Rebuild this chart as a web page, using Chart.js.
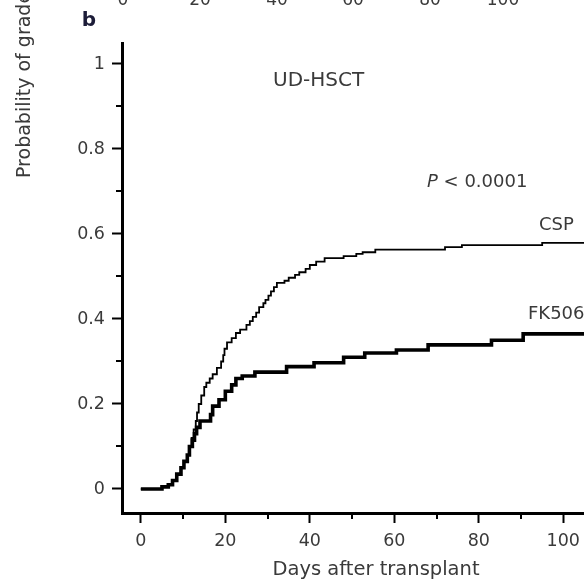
<!DOCTYPE html>
<html>
<head>
<meta charset="utf-8">
<script src="https://cdn.jsdelivr.net/npm/chart.js@4/dist/chart.umd.min.js"></script>
<style>
  html, body { margin: 0; padding: 0; background: #fff; }
  #wrap { width: 588px; height: 583px; position: relative; }
</style>
</head>
<body>
<div id="wrap"><canvas id="km"></canvas></div>
<script>
// cumulative incidence (days, probability)
var cspDays = [0, 5, 6.5, 7.5, 8.5, 9.5, 10.2, 11, 11.5, 12, 12.5, 13, 13.3, 13.7, 14.3, 15, 15.5, 16.3, 17, 18, 19, 19.5, 19.8, 20.4, 21.5, 22.5, 23.5, 25, 25.8, 26.5, 27.3, 28, 29, 29.5, 30.2, 30.8, 31.5, 32.2, 34, 35, 36.5, 37.5, 39, 40, 41.5, 43.5, 48, 51, 52.5, 55.5, 72, 76, 95, 105];
var cspProb = [0, 0.005, 0.01, 0.02, 0.035, 0.05, 0.065, 0.08, 0.1, 0.12, 0.14, 0.16, 0.18, 0.2, 0.22, 0.24, 0.25, 0.26, 0.27, 0.285, 0.3, 0.315, 0.33, 0.345, 0.355, 0.367, 0.375, 0.386, 0.395, 0.405, 0.415, 0.428, 0.437, 0.445, 0.455, 0.465, 0.475, 0.485, 0.49, 0.497, 0.504, 0.51, 0.518, 0.527, 0.535, 0.543, 0.548, 0.553, 0.557, 0.563, 0.569, 0.574, 0.579, 0.579];

var fkDays = [0, 5, 6.5, 7.5, 8.5, 9.5, 10.2, 11, 11.5, 12.2, 12.7, 13.2, 14, 16.5, 17, 18.5, 20, 21.5, 22.5, 24, 27, 34.5, 41, 48, 53, 60.5, 68, 83, 90.5, 105];
var fkProb = [0, 0.005, 0.01, 0.02, 0.035, 0.05, 0.065, 0.08, 0.1, 0.115, 0.13, 0.145, 0.16, 0.175, 0.195, 0.21, 0.23, 0.245, 0.26, 0.266, 0.275, 0.288, 0.297, 0.31, 0.32, 0.327, 0.339, 0.35, 0.365, 0.365];

var xTickValues = [0, 10, 20, 30, 40, 50, 60, 70, 80, 90, 100];
var yTickValues = [0, 0.1, 0.2, 0.3, 0.4, 0.5, 0.6, 0.7, 0.8, 0.9, 1];
var yTickLabels = {0: '0', 2: '0.2', 4: '0.4', 6: '0.6', 8: '0.8', 10: '1'};
// tick labels of the panel above, cut off at the top edge
var topPanelLabels = ['0', '20', '40', '60', '80', '100'];

var FONT = '"DejaVu Sans", Verdana, sans-serif';
var INK = '#3a3a3a';

function pts(xs, ys) {
  return xs.map(function (d, i) { return { x: d, y: ys[i] }; });
}

function isMajorX(v) { return Math.round(v) % 20 === 0; }
function isMajorY(v) { return Math.round(v * 10) % 2 === 0; }

var extras = {
  id: 'extras',
  afterDraw: function (chart) {
    var ctx = chart.ctx;
    var xs = chart.scales.x, ys = chart.scales.y;
    ctx.save();
    // short minor ticks
    ctx.strokeStyle = '#000';
    ctx.lineWidth = 2;
    xTickValues.forEach(function (v) {
      if (isMajorX(v)) return;
      var px = Math.round(xs.getPixelForValue(v));
      ctx.beginPath();
      ctx.moveTo(px, xs.top);
      ctx.lineTo(px, xs.top + 6);
      ctx.stroke();
    });
    yTickValues.forEach(function (v) {
      if (isMajorY(v)) return;
      var py = Math.round(ys.getPixelForValue(v));
      ctx.beginPath();
      ctx.moveTo(ys.right, py);
      ctx.lineTo(ys.right - 6, py);
      ctx.stroke();
    });

    ctx.textBaseline = 'middle';

    // panel letter
    ctx.font = 'bold 20px ' + FONT;
    ctx.fillStyle = '#1c1c38';
    ctx.textAlign = 'center';
    ctx.fillText('b', 89, 21);

    // labels of upper panel (cropped)
    ctx.fillStyle = INK;
    ctx.font = '17px ' + FONT;
    ctx.textBaseline = 'alphabetic';
    var topX = [123, 200, 277, 353, 430, 503];
    topPanelLabels.forEach(function (t, i) { ctx.fillText(t, topX[i], 5); });

    // y axis title (cropped at top)
    ctx.save();
    ctx.font = '19px ' + FONT;
    ctx.translate(25, 178);
    ctx.rotate(-Math.PI / 2);
    ctx.textAlign = 'left';
    ctx.textBaseline = 'middle';
    ctx.fillText('Probability of grade II\u2013IV acute GVHD', 0, 0);
    ctx.restore();

    ctx.textBaseline = 'middle';
    ctx.textAlign = 'left';
    ctx.font = '20px ' + FONT;
    ctx.fillText('UD-HSCT', 273, 81);

    ctx.font = 'italic 18px ' + FONT;
    ctx.fillText('P', 427, 182);
    var pw = ctx.measureText('P').width;
    ctx.font = '18px ' + FONT;
    ctx.fillText(' < 0.0001', 427 + pw, 182);

    ctx.fillText('CSP', 539, 225);
    ctx.fillText('FK506', 528, 314);

    ctx.textAlign = 'center';
    ctx.font = '19.5px ' + FONT;
    ctx.fillText('Days after transplant', 376, 570);
    ctx.restore();
  }
};

var config = {
  type: 'line',
  data: {
    datasets: [
      {
        label: 'CSP',
        data: pts(cspDays, cspProb),
        borderColor: '#000',
        borderWidth: 1.8,
        stepped: true,
        pointRadius: 0,
        fill: false
      },
      {
        label: 'FK506',
        data: pts(fkDays, fkProb),
        borderColor: '#000',
        borderWidth: 3.6,
        stepped: true,
        pointRadius: 0,
        fill: false
      }
    ]
  },
  options: {
    responsive: true,
    maintainAspectRatio: false,
    animation: false,
    layout: { padding: { top: 43, left: 0, right: 0, bottom: 0 } },
    plugins: { legend: { display: false }, tooltip: { enabled: false } },
    scales: {
      x: {
        type: 'linear',
        min: -4.46,
        max: 104.9,
        afterBuildTicks: function (scale) {
          scale.ticks = xTickValues.map(function (v) { return { value: v }; });
        },
        afterFit: function (scale) { scale.height = 70; },
        border: { display: true, color: '#000', width: 3 },
        grid: {
          drawOnChartArea: false,
          drawTicks: true,
          tickLength: 10,
          tickWidth: 2,
          tickColor: function (c) { return isMajorX(c.tick.value) ? '#000' : 'rgba(0,0,0,0)'; }
        },
        ticks: {
          padding: 8,
          maxRotation: 0,
          autoSkip: false,
          color: INK,
          font: { family: FONT, size: 17.5 },
          callback: function (v) { return isMajorX(v) ? String(v) : ''; }
        }
      },
      y: {
        type: 'linear',
        min: -0.0565,
        max: 1.0494,
        afterBuildTicks: function (scale) {
          scale.ticks = yTickValues.map(function (v) { return { value: v }; });
        },
        afterFit: function (scale) { scale.width = 122; },
        border: { display: true, color: '#000', width: 3 },
        grid: {
          drawOnChartArea: false,
          drawTicks: true,
          tickLength: 10,
          tickWidth: 2,
          tickColor: function (c) { return isMajorY(c.tick.value) ? '#000' : 'rgba(0,0,0,0)'; }
        },
        ticks: {
          padding: 7,
          autoSkip: false,
          color: INK,
          font: { family: FONT, size: 17.5 },
          callback: function (v) {
            var k = Math.round(v * 10);
            return yTickLabels[k] !== undefined ? yTickLabels[k] : '';
          }
        }
      }
    }
  },
  plugins: [extras]
};

new Chart(document.getElementById('km'), config);
</script>
</body>
</html>
